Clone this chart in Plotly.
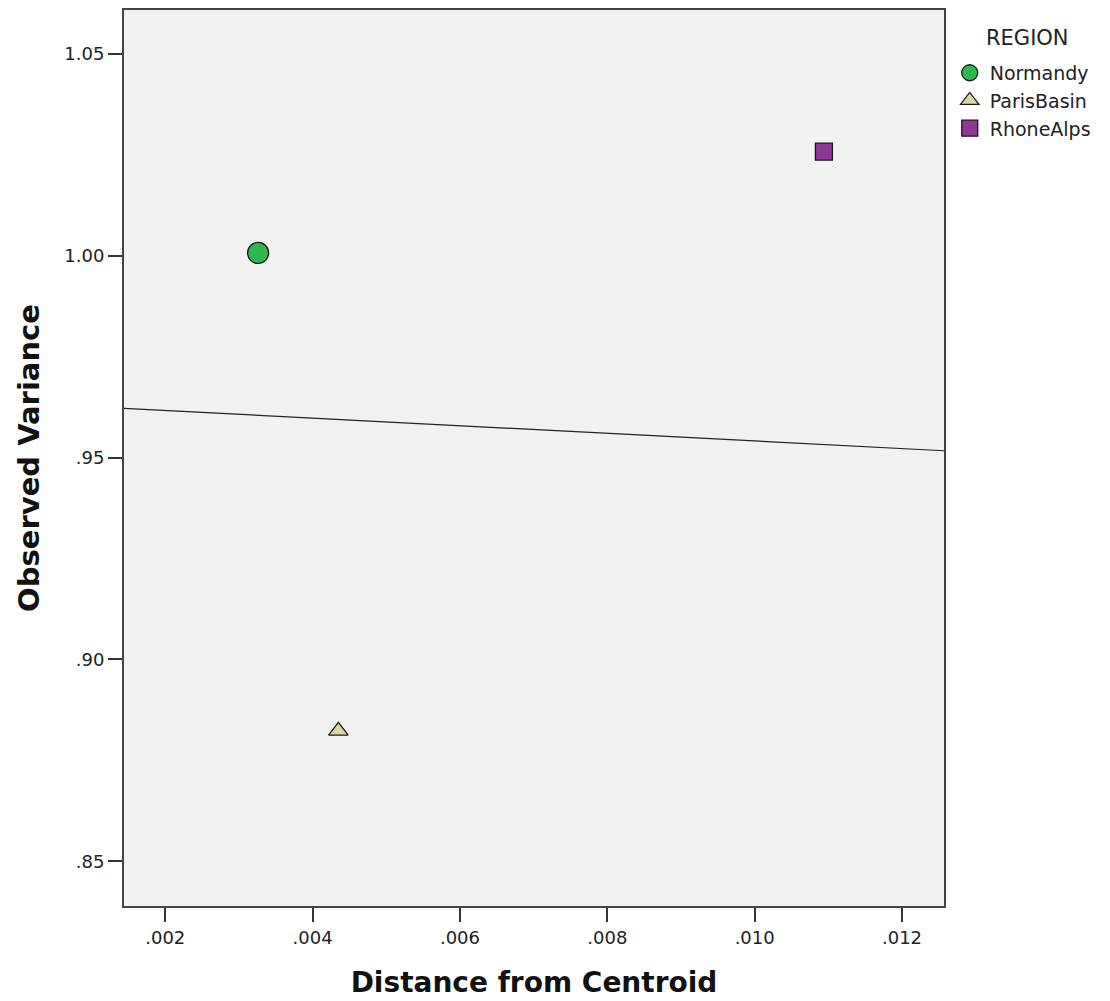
import plotly.graph_objects as go

# Region observations
regions = ["Normandy", "ParisBasin", "RhoneAlps"]
distance = [0.00326, 0.00435, 0.01094]
variance = [1.0007, 0.8823, 1.0258]
symbols = ["circle", "triangle-up", "square"]
colors = ["#2fb84f", "#dcd7a0", "#8e3896"]
sizes = [21, 17, 17]

# Reference line endpoints
line_x = [0.00144, 0.01257]
line_y = [0.9622, 0.9517]

x_ticks = [0.002, 0.004, 0.006, 0.008, 0.010, 0.012]
x_tick_labels = [".002", ".004", ".006", ".008", ".010", ".012"]
y_ticks = [0.85, 0.90, 0.95, 1.00, 1.05]
y_tick_labels = [".85", ".90", ".95", "1.00", "1.05"]

FONT = "DejaVu Sans"

fig = go.Figure()

fig.add_trace(go.Scatter(
    x=line_x, y=line_y, mode="lines",
    line=dict(color="#222222", width=1.2),
    showlegend=False, hoverinfo="skip",
))

for name, x, y, sym, col, sz in zip(regions, distance, variance, symbols, colors, sizes):
    fig.add_trace(go.Scatter(
        x=[x], y=[y], mode="markers", name=name,
        marker=dict(symbol=sym, color=col, size=sz,
                    line=dict(color="#1a1a1a", width=1.3)),
    ))

axis_common = dict(
    showgrid=False, zeroline=False,
    showline=True, linecolor="#444444", linewidth=2, mirror=True,
    ticks="outside", ticklen=14, tickwidth=2, tickcolor="#333333",
    tickfont=dict(family=FONT, size=18, color="#222222"),
)

fig.update_xaxes(
    range=[0.00144, 0.01257],
    tickvals=x_ticks, ticktext=x_tick_labels,
    title=dict(text="<b>Distance from Centroid</b>",
               font=dict(family=FONT, size=28, color="#111111"), standoff=26),
    **axis_common,
)
fig.update_yaxes(
    range=[0.8389, 1.0609],
    tickvals=y_ticks, ticktext=y_tick_labels,
    title=dict(text="<b>Observed Variance</b>",
               font=dict(family=FONT, size=29, color="#111111"), standoff=16),
    **axis_common,
)

# Legend heading drawn separately so it sits a little above the entries
fig.add_annotation(
    text="REGION", xref="paper", yref="paper",
    x=1.102, y=0.969, xanchor="center", yanchor="middle",
    showarrow=False, font=dict(family=FONT, size=21, color="#222222"),
)

fig.update_layout(
    width=1110, height=1001,
    margin=dict(l=124, r=166, t=8, b=94),
    plot_bgcolor="#f2f2f2",
    paper_bgcolor="#ffffff",
    legend=dict(
        font=dict(family=FONT, size=19, color="#222222"),
        x=1.007, y=0.951, xanchor="left", yanchor="top",
        itemwidth=30, tracegroupgap=0,
        bgcolor="rgba(0,0,0,0)",
    ),
)

fig.write_html("out.html")
